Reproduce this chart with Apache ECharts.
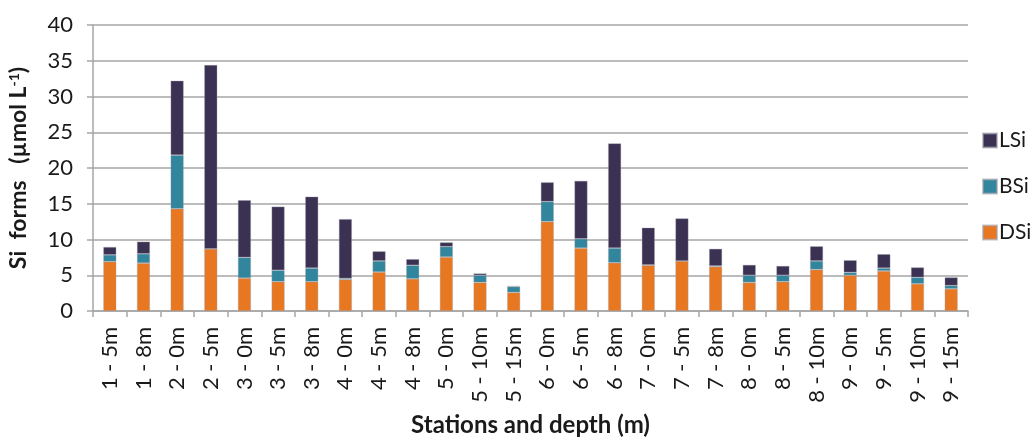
<!DOCTYPE html>
<html>
<head>
<meta charset="utf-8">
<script src="https://cdn.jsdelivr.net/npm/echarts@6/dist/echarts.min.js"></script>
<style>
  html, body { margin: 0; padding: 0; background: #ffffff; }
  #chart { width: 1031px; height: 437px; }
</style>
</head>
<body>
<div id="chart"></div>
<script>
// Stations and sampling depths
const categories = ['1 - 5m', '1 - 8m', '2 - 0m', '2 - 5m', '3 - 0m', '3 - 5m', '3 - 8m',
  '4 - 0m', '4 - 5m', '4 - 8m', '5 - 0m', '5 - 10m', '5 - 15m', '6 - 0m', '6 - 5m', '6 - 8m',
  '7 - 0m', '7 - 5m', '7 - 8m', '8 - 0m', '8 - 5m', '8 - 10m', '9 - 0m', '9 - 5m', '9 - 10m', '9 - 15m'];

// Silicon forms, µmol L-1 (stacked: DSi at the bottom, then BSi, then LSi)
const dsi = [6.9, 6.7, 14.3, 8.7, 4.6, 4.1, 4.1, 4.4, 5.45, 4.5, 7.55, 4.0, 2.6, 12.5, 8.8, 6.75,
  6.4, 7.0, 6.2, 4.0, 4.1, 5.8, 5.0, 5.6, 3.8, 3.1];
const bsi = [0.95, 1.3, 7.5, 0.0, 2.9, 1.6, 1.9, 0.15, 1.55, 1.9, 1.45, 1.0, 0.8, 2.8, 1.3, 2.05,
  0.05, 0.0, 0.1, 1.0, 0.9, 1.2, 0.4, 0.4, 0.9, 0.45];
const lsi = [1.1, 1.7, 10.4, 25.7, 8.0, 8.9, 10.0, 8.3, 1.35, 0.85, 0.6, 0.25, 0.1, 2.7, 8.1, 14.65,
  5.2, 5.95, 2.4, 1.45, 1.3, 2.05, 1.7, 1.95, 1.4, 1.15];

const FONT = 'Lato';
const TEXT = '#1a1a1a';
const axisGrey = '#a6a6a6';

const chart = echarts.init(document.getElementById('chart'), null, { renderer: 'canvas' });

const barStyle = (color) => ({ color: color, borderColor: 'rgba(160,160,170,0.6)', borderWidth: 0.6 });

chart.setOption({
  animation: false,
  backgroundColor: '#ffffff',
  textStyle: { fontFamily: FONT },
  grid: { left: 93, right: 63, top: 25, bottom: 126, containLabel: false, outerBoundsMode: 'none' },
  legend: {
    orient: 'vertical',
    left: 977,
    top: 125,
    itemGap: 25,
    itemWidth: 14,
    itemHeight: 14,
    icon: 'rect',
    data: ['LSi', 'BSi', 'DSi'],
    textStyle: { fontFamily: FONT, fontSize: 21, color: TEXT, padding: [0, 0, 0, -3] }
  },
  xAxis: {
    type: 'category',
    data: categories,
    axisLine: { show: true, lineStyle: { color: axisGrey, width: 1.5 } },
    axisTick: { show: true, alignWithLabel: false, length: 6, lineStyle: { color: axisGrey, width: 1.5 } },
    axisLabel: { rotate: 90, interval: 0, margin: 16, fontFamily: FONT, fontSize: 22, color: TEXT },
    name: 'Stations and depth (m)',
    nameLocation: 'middle',
    nameGap: 102,
    nameTextStyle: { fontFamily: FONT, fontSize: 24, fontWeight: 'bold', color: TEXT }
  },
  yAxis: {
    type: 'value',
    min: 0,
    max: 40,
    interval: 5,
    axisLine: { show: true, lineStyle: { color: axisGrey, width: 1.5 } },
    axisTick: { show: true, length: 6, inside: false, lineStyle: { color: axisGrey, width: 1.5 } },
    splitLine: { show: true, lineStyle: { color: axisGrey, width: 1.5 } },
    axisLabel: { fontFamily: FONT, fontSize: 22, color: TEXT, margin: 20 },
    name: '{t|Si  forms   (µmol L}{s|-1}{t|)}',
    nameLocation: 'middle',
    nameGap: 62,
    nameTextStyle: {
      rich: {
        t: { fontFamily: FONT, fontSize: 23, fontWeight: 'bold', color: TEXT },
        s: { fontFamily: FONT, fontSize: 14, fontWeight: 'bold', color: TEXT, verticalAlign: 'top', padding: [0, 0, 10, 0] }
      }
    }
  },
  series: [
    { name: 'DSi', type: 'bar', stack: 'si', data: dsi, barWidth: 13, itemStyle: barStyle('#e87722') },
    { name: 'BSi', type: 'bar', stack: 'si', data: bsi, barWidth: 13, itemStyle: barStyle('#31859c') },
    { name: 'LSi', type: 'bar', stack: 'si', data: lsi, barWidth: 13, itemStyle: barStyle('#3b3152') }
  ]
});
</script>
</body>
</html>
